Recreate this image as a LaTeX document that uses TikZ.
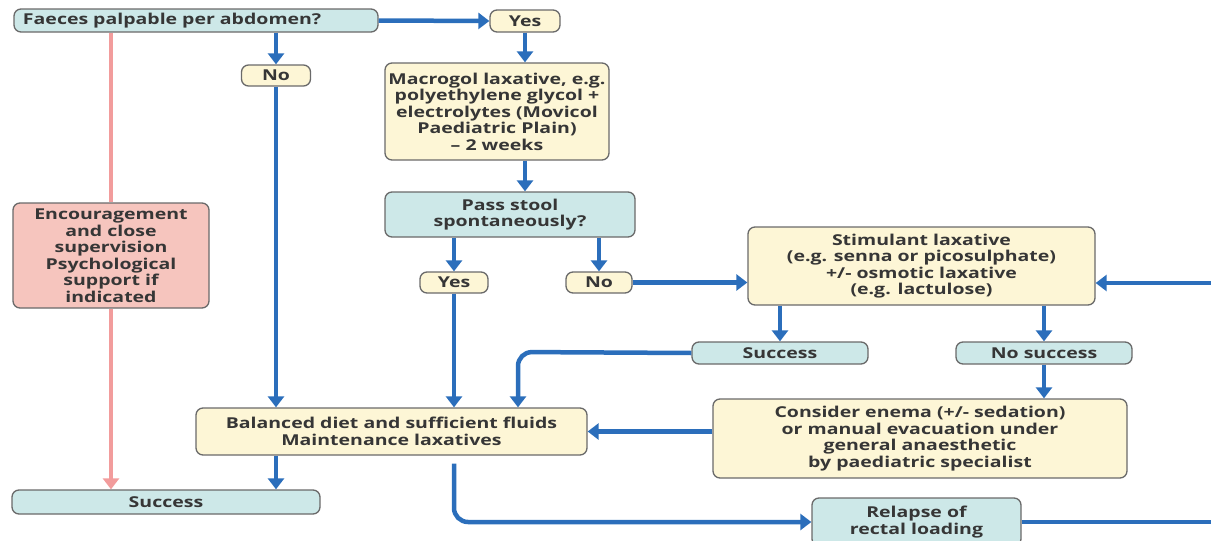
\documentclass[tikz,border=0pt]{standalone}
\usepackage{fontspec}
\setmainfont{Open Sans}[FakeStretch=1.3]
\usetikzlibrary{arrows.meta}
\definecolor{teal}{HTML}{CDE8E8}
\definecolor{cream}{HTML}{FDF6D6}
\definecolor{rosy}{HTML}{F6C5BE}
\definecolor{edge}{HTML}{6A6A6A}
\definecolor{arrowblue}{HTML}{2B6EBB}
\definecolor{pinkline}{HTML}{F29C9C}
\definecolor{txt}{HTML}{363636}
\tikzset{
  box/.style={draw=edge, line width=1.3pt, rounded corners=7pt, align=center,
    inner sep=0pt, font=\fontsize{15}{16.5}\selectfont\bfseries, text=txt},
  tealbox/.style={box, fill=teal},
  creambox/.style={box, fill=cream},
  rosebox/.style={box, fill=rosy},
  flow/.style={draw=arrowblue, line width=4.5pt, -{Triangle[width=16pt,length=11pt]}},
  flowline/.style={draw=arrowblue, line width=4.5pt},
  pinkflow/.style={draw=pinkline, line width=4.5pt, -{Triangle[width=16pt,length=11pt]}},
  pinkseg/.style={draw=pinkline, line width=4.5pt},
}
\begin{document}
\begin{tikzpicture}[x=1pt,y=-1pt]
\useasboundingbox (0,0) rectangle (1211,541);
\node[tealbox, minimum width=364pt, minimum height=23pt, text width=346pt, align=left] (faeces) at (196,20.5) {Faeces palpable per abdomen?};
\node[creambox, minimum width=70pt, minimum height=22pt] (yes1) at (525,21) {Yes};
\node[creambox, minimum width=69pt, minimum height=21pt] (no1) at (276,75.5) {No};
\node[creambox, minimum width=224pt, minimum height=97pt] (macro) at (497,111.5) {Macrogol laxative, e.g.\\polyethylene glycol +\\electrolytes (Movicol\\Paediatric Plain)\\-- 2 weeks};
\node[tealbox, minimum width=250pt, minimum height=45pt] (pass) at (510,214.5) {Pass stool\\spontaneously?};
\node[creambox, minimum width=68pt, minimum height=21pt] (yes2) at (454,282.5) {Yes};
\node[creambox, minimum width=66pt, minimum height=21pt] (no2) at (599,282.5) {No};
\node[creambox, minimum width=347pt, minimum height=78pt] (stim) at (921.5,266) {Stimulant laxative\\(e.g. senna or picosulphate)\\+/- osmotic laxative\\(e.g. lactulose)};
\node[rosebox, minimum width=196pt, minimum height=105pt] (enc) at (111,255.5) {Encouragement\\and close\\supervision\\Psychological\\support if\\indicated};
\node[tealbox, minimum width=176pt, minimum height=22pt] (succ2) at (780,353) {Success};
\node[tealbox, minimum width=176pt, minimum height=22pt] (nosucc) at (1044,353) {No success};
\node[creambox, minimum width=414pt, minimum height=79pt] (enema) at (920,438.5) {Consider enema (+/- sedation)\\or manual evacuation under\\general anaesthetic\\by paediatric specialist};
\node[creambox, minimum width=391pt, minimum height=47pt] (bal) at (391.5,431.5) {Balanced diet and sufficient fluids\\Maintenance laxatives};
\node[tealbox, minimum width=308pt, minimum height=24pt] (succ1) at (166,502) {Success};
\node[tealbox, minimum width=209pt, minimum height=48pt] (relapse) at (916.5,522) {Relapse of\\rectal loading};
\coordinate (bend) at (518,352);
\coordinate (rightout) at (1211,522);
\coordinate (rightin) at (1211,283);
% pink path
\draw[pinkseg] (faeces.south -| enc) -- (enc.north);
\draw[pinkflow] (enc.south) -- (succ1.north -| enc);
% blue flows
\draw[flow] (faeces.east) -- (yes1.west);
\draw[flow] (faeces.south -| no1) -- (no1.north);
\draw[flow] (no1.south) -- (bal.north -| no1);
\draw[flow] (yes1.south) -- (macro.north -| yes1);
\draw[flow] (macro.south -| yes1) -- (pass.north -| yes1);
\draw[flow] (pass.south -| yes2) -- (yes2.north);
\draw[flow] (pass.south -| no2) -- (no2.north);
\draw[flow] (yes2.south) -- (bal.north -| yes2);
\draw[flow] (no2.east) -- (stim.west |- no2);
\draw[flow] (stim.south -| succ2) -- (succ2.north);
\draw[flow] (stim.south -| nosucc) -- (nosucc.north);
\draw[flow, rounded corners=14pt] (succ2.west) -- (bend) -- (bal.north -| bend);
\draw[flow] (nosucc.south) -- (enema.north -| nosucc);
\draw[flow] (enema.west |- bal.east) -- (bal.east);
\draw[flow] (bal.south -| no1) -- (succ1.north -| no1);
\draw[flow, rounded corners=14pt] ([yshift=-8pt]bal.south -| yes2) |- (relapse.west);
\draw[flowline] (relapse.east) -- (rightout);
\draw[flow] (rightin) -- (stim.east |- rightin);
\end{tikzpicture}
\end{document}
